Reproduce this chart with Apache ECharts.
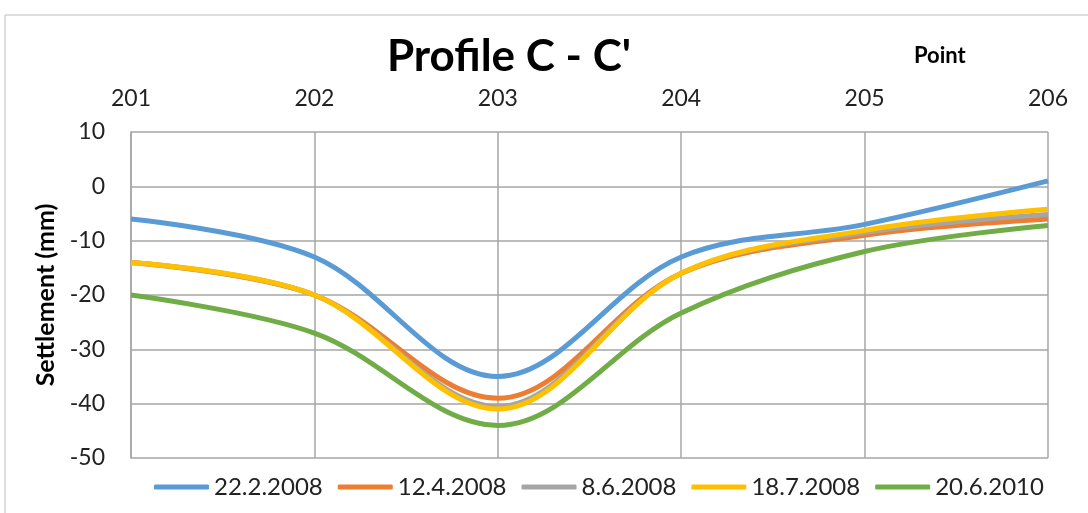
<!DOCTYPE html>
<html><head><meta charset="utf-8">
<script src="https://cdn.jsdelivr.net/npm/echarts@6/dist/echarts.min.js"></script>
<style>html,body{margin:0;padding:0;background:#fff}#c{width:1088px;height:513px}</style>
</head><body><div id="c"></div>
<script>
const points = ['201','202','203','204','205','206'];
const yTicks = [-50, -40, -30, -20, -10, 0, 10];
const s1_name = '22.2.2008', s1 = [-6, -13, -35, -13, -7, 1];
const s2_name = '12.4.2008', s2 = [-14, -20, -39, -16, -9, -6];
const s3_name = '8.6.2008',  s3 = [-14, -20, -40.5, -16, -8.5, -5.2];
const s4_name = '18.7.2008', s4 = [-14, -20, -41, -16, -8.1, -4.2];
const s5_name = '20.6.2010', s5 = [-20, -27, -44, -23.3, -12, -7.2];
const colors = ['#5B9BD5', '#ED7D31', '#A5A5A5', '#FFC000', '#70AD47'];
const FONT = "Lato, 'Liberation Sans', sans-serif";

const names = [s1_name, s2_name, s3_name, s4_name, s5_name];
const data = [s1, s2, s3, s4, s5];
const chart = echarts.init(document.getElementById('c'));
chart.setOption({
  animation: false,
  color: colors,
  textStyle: {fontFamily: FONT},
  title: {text: "Profile C - C'", left: 504, top: 30, textAlign: 'center',
    textStyle: {fontSize: 44, fontWeight: 'bold', color: '#000', fontFamily: FONT}},
  graphic: [
    {type: 'rect', shape: {x: 5, y: 15, width: 1100, height: 520},
      style: {fill: 'none', stroke: '#bfbfbf', lineWidth: 1}, silent: true},
    {type: 'text', left: 914, top: 45, silent: true,
      style: {text: 'Point', fontSize: 22, fontWeight: 'bold', fill: '#000', fontFamily: FONT}}
  ],
  grid: {left: 131, right: 40, top: 132, bottom: 55},
  legend: {bottom: 9, left: 149, itemWidth: 55, itemHeight: 5, itemGap: 15,
    icon: 'roundRect',
    textStyle: {fontSize: 24, color: '#222', fontFamily: FONT},
    data: names},
  xAxis: {type: 'category', data: points, position: 'top', boundaryGap: false,
    axisLine: {show: false}, axisTick: {show: false},
    axisLabel: {fontSize: 23, color: '#222', margin: 22},
    splitLine: {show: true, lineStyle: {color: '#a6a6a6', width: 1.5}}},
  yAxis: {type: 'value', min: -50, max: 10, interval: 10,
    name: 'Settlement (mm)', nameLocation: 'middle', nameGap: 70,
    nameTextStyle: {fontSize: 25, fontWeight: 'bold', color: '#000'},
    axisLine: {show: true, lineStyle: {color: '#a6a6a6', width: 1.5}}, axisTick: {show: false},
    axisLabel: {fontSize: 23, color: '#222', margin: 26,
      formatter: v => yTicks.includes(v) ? String(v) : ''},
    splitLine: {show: true, lineStyle: {color: '#a6a6a6', width: 1.5}}},
  series: data.map((d, i) => ({
    name: names[i], type: 'line', data: d, smooth: 0.35, symbol: 'none',
    lineStyle: {width: 5, color: colors[i]}, itemStyle: {color: colors[i]}
  }))
});
</script></body></html>
